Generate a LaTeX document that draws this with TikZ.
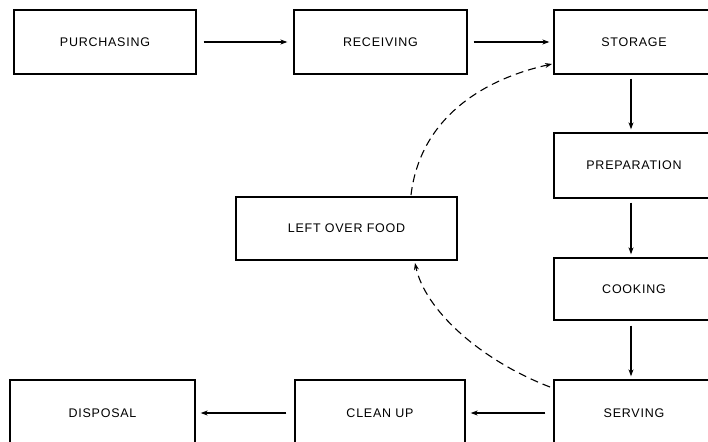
\documentclass[tikz,border=0pt]{standalone}
\usepackage{fontspec}
\setmainfont{Liberation Sans}[LetterSpace=6]
\usetikzlibrary{arrows.meta}
\begin{document}
\begin{tikzpicture}[x=1pt,y=-1pt,
  box/.style={draw, line width=1.3pt, rectangle, inner sep=0pt, font=\fontsize{12.5}{15}\selectfont},
  flow/.style={line width=1.8pt, -{Stealth[length=7pt,width=5pt]}},
  down/.style={line width=1.2pt, -{Stealth[length=7pt,width=5pt]}},
  back/.style={line width=1.1pt, dash pattern=on 8pt off 5pt, -{Stealth[length=7pt,width=5pt]}}]
\useasboundingbox (0,0) rectangle (708,441);
\node[box, minimum width=182pt, minimum height=64pt] (pur) at (105,42) {PURCHASING};
\node[box, minimum width=173pt, minimum height=64pt] (rec) at (380.5,42) {RECEIVING};
\node[box, minimum width=160pt, minimum height=64pt] (sto) at (634,42) {STORAGE};
\node[box, minimum width=160pt, minimum height=65pt] (pre) at (634,165.5) {PREPARATION};
\node[box, minimum width=160pt, minimum height=62pt] (coo) at (634,289) {COOKING};
\node[box, minimum width=160pt, minimum height=66pt] (ser) at (634,413) {SERVING};
\node[box, minimum width=170pt, minimum height=66pt] (cle) at (380,413) {CLEAN UP};
\node[box, minimum width=185pt, minimum height=66pt] (dis) at (102.5,413) {DISPOSAL};
\node[box, minimum width=221pt, minimum height=63pt] (lef) at (346.5,228.5) {LEFT OVER FOOD};
\draw[flow] ([xshift=7pt]pur.east) -- ([xshift=-6pt]rec.west);
\draw[flow] ([xshift=6pt]rec.east) -- ([xshift=-4pt]sto.west);
\draw[down] ([xshift=-3pt,yshift=-4pt]sto.south) -- ([xshift=-3pt,yshift=3pt]pre.north);
\draw[down] ([xshift=-3pt,yshift=-4pt]pre.south) -- ([xshift=-3pt,yshift=3pt]coo.north);
\draw[down] ([xshift=-3pt,yshift=-5pt]coo.south) -- ([xshift=-3pt,yshift=3pt]ser.north);
\draw[flow] ([xshift=-8pt]ser.west) -- ([xshift=5pt]cle.east);
\draw[flow] ([xshift=-8pt]cle.west) -- ([xshift=5pt]dis.east);
\coordinate (s1) at (550,387);
\coordinate (l1) at (415,263);
\coordinate (l2) at (411,195);
\coordinate (s2) at (552,64);
\draw[back] (s1) .. controls (480,360) and (425,310) .. (l1);
\draw[back] (l2) .. controls (420,120) and (480,80) .. (s2);
\end{tikzpicture}
\end{document}
